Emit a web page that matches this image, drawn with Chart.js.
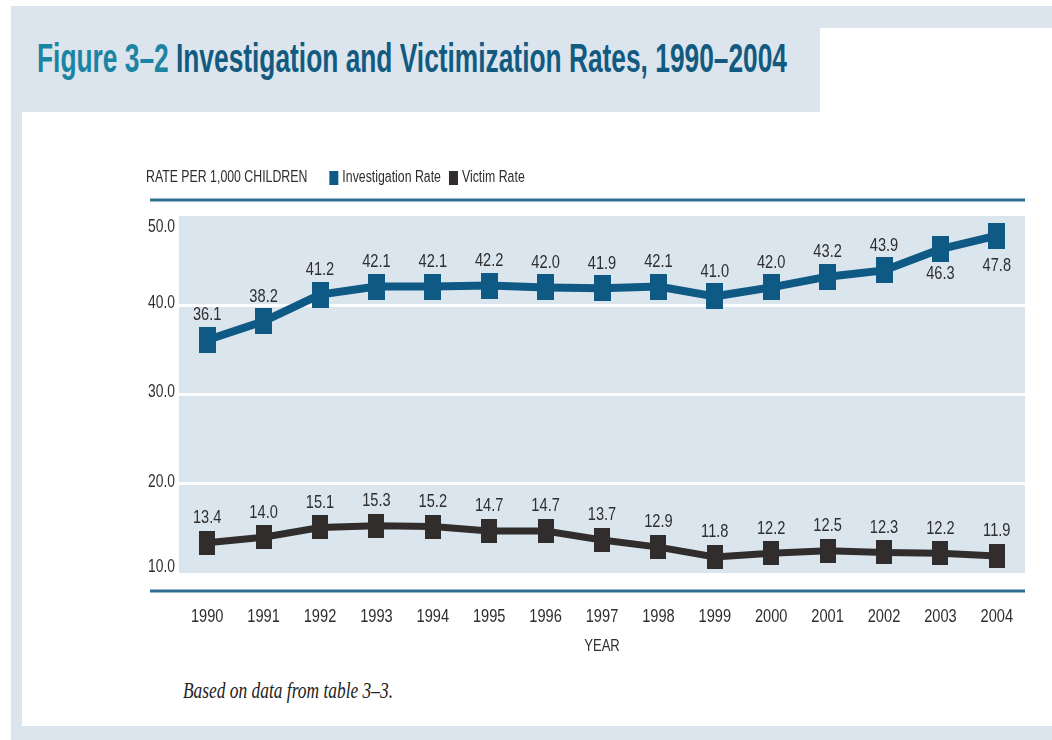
<!DOCTYPE html>
<html>
<head>
<meta charset="utf-8">
<script src="https://cdn.jsdelivr.net/npm/chart.js@4.4.1/dist/chart.umd.min.js"></script>
<style>
  html, body { margin: 0; padding: 0; background: #ffffff; }
  #page { position: relative; width: 1052px; height: 740px; overflow: hidden; background: #ffffff; }
  .abs { position: absolute; }
  #bg { left: 11px; top: 6px; right: 0; bottom: 0; background: #dce5ee; }
  #panel { left: 22px; top: 28px; right: 0; height: 698px; background: #ffffff; }
  #titlebox { left: 11px; top: 6px; width: 809px; height: 106px; background: #dce5ee; }
  #title { left: 37px; top: 38px; white-space: nowrap; font-family: "Liberation Sans Narrow", "Liberation Sans", sans-serif;
           font-weight: bold; font-size: 40px; line-height: 40px; color: #135a80; transform-origin: 0 0; }
  #title .fig { color: #1b84a3; }
  #note { left: 183px; top: 679px; white-space: nowrap; font-family: "Liberation Serif", serif; font-style: italic;
          font-size: 23px; line-height: 23px; color: #222; transform-origin: 0 0; }
  #wrap { left: 0; top: 0; width: 1052px; height: 740px; }
</style>
</head>
<body>
<div id="page">
  <div id="bg" class="abs"></div>
  <div id="panel" class="abs"></div>
  <div id="titlebox" class="abs"></div>
  <div id="title" class="abs"><span class="fig">Figure 3–2</span> Investigation and Victimization Rates, 1990–2004</div>
  <div id="note" class="abs">Based on data from table 3–3.</div>
  <div id="wrap" class="abs"><canvas id="c"></canvas></div>
</div>
<script>
// ---- data ----
const years = ["1990","1991","1992","1993","1994","1995","1996","1997","1998","1999","2000","2001","2002","2003","2004"];
const investigationRate = [36.1, 38.2, 41.2, 42.1, 42.1, 42.2, 42.0, 41.9, 42.1, 41.0, 42.0, 43.2, 43.9, 46.3, 47.8];
const victimRate = [13.4, 14.0, 15.1, 15.3, 15.2, 14.7, 14.7, 13.7, 12.9, 11.8, 12.2, 12.5, 12.3, 12.2, 11.9];
const seriesNames = ["Investigation Rate", "Victim Rate"];
const yTicks = [10, 20, 30, 40, 50];
const legendPrefix = "RATE PER 1,000 CHILDREN";
const xAxisTitle = "YEAR";

// fit title / note widths
function fitWidth(id, target) {
  const el = document.getElementById(id);
  const w = el.getBoundingClientRect().width;
  el.style.transform = 'scaleX(' + (target / w) + ')';
}
fitWidth('title', 750);
fitWidth('note', 210);

const INV = '#0f5a85';
const VIC = '#312d2d';
const RULE = '#2f6e92';
const TXT = '#2e2e2e';
const FONT = '"Liberation Sans", Arial, sans-serif';
const SX = 0.77; // condensed look

function rectMarker(w, h, color) {
  const cv = document.createElement('canvas');
  cv.width = w; cv.height = h;
  const g = cv.getContext('2d');
  g.fillStyle = color;
  g.fillRect(0, 0, w, h);
  return cv;
}

function cText(ctx, text, x, y, size, align, color) {
  ctx.save();
  ctx.font = size + 'px ' + FONT;
  ctx.fillStyle = color || TXT;
  ctx.textAlign = align;
  ctx.textBaseline = 'middle';
  ctx.translate(x, y);
  ctx.scale(SX, 1);
  ctx.fillText(text, 0, 0);
  const w = ctx.measureText(text).width * SX;
  ctx.restore();
  return w;
}

const decoPlugin = {
  id: 'deco',
  beforeDraw(chart) {
    const {ctx, chartArea: a} = chart;
    ctx.save();
    ctx.fillStyle = '#dbe5ee';
    ctx.fillRect(a.left, a.top, a.right - a.left, a.bottom - a.top);
    ctx.strokeStyle = RULE;
    ctx.lineWidth = 3;
    ctx.beginPath();
    ctx.moveTo(a.left - 29, a.top - 16); ctx.lineTo(a.right, a.top - 16);
    ctx.moveTo(a.left - 29, a.bottom + 18); ctx.lineTo(a.right, a.bottom + 18);
    ctx.stroke();
    ctx.restore();
    // legend
    const ly = a.top - 38;
    let x = a.left - 33;
    x += cText(ctx, legendPrefix, x, ly, 16, 'left') + 22;
    chart.data.datasets.forEach((ds) => {
      ctx.fillStyle = ds.borderColor;
      ctx.fillRect(x, ly - 7, 9, 14);
      x += 13;
      x += cText(ctx, ds.label, x, ly, 16, 'left') + 8;
    });
  },
  afterDraw(chart) {
    const {ctx, chartArea: a} = chart;
    const xs = chart.scales.x, ys = chart.scales.y;
    // x tick labels
    xs.ticks.forEach((t, i) => {
      cText(ctx, xs.getLabelForValue(t.value), xs.getPixelForTick(i), a.bottom + 44, 19, 'center');
    });
    // x axis title
    cText(ctx, xAxisTitle, (a.left + a.right) / 2, a.bottom + 73, 17, 'center');
    // y tick labels
    ys.ticks.forEach((t) => {
      let py = ys.getPixelForValue(t.value);
      py = Math.min(Math.max(py - 2, a.top + 11), a.bottom - 6);
      cText(ctx, Number(t.value).toFixed(1), a.left - 4, py, 18, 'right');
    });
  },
  afterDatasetsDraw(chart) {
    const {ctx} = chart;
    chart.data.datasets.forEach((ds, di) => {
      const meta = chart.getDatasetMeta(di);
      meta.data.forEach((pt, i) => {
        const below = di === 0 && i >= ds.data.length - 2;
        const dy = below ? (i === ds.data.length - 1 ? 30 : 25) : -25;
        cText(ctx, ds.data[i].toFixed(1), pt.x, pt.y + dy, 19, 'center');
      });
    });
  }
};

new Chart(document.getElementById('c'), {
  type: 'line',
  data: {
    labels: years,
    datasets: [
      { label: seriesNames[0], data: investigationRate, borderColor: INV, backgroundColor: INV,
        borderWidth: 8, pointStyle: rectMarker(17, 26, INV), pointRadius: 9, tension: 0 },
      { label: seriesNames[1], data: victimRate, borderColor: VIC, backgroundColor: VIC,
        borderWidth: 7, pointStyle: rectMarker(16, 24, VIC), pointRadius: 9, tension: 0 }
    ]
  },
  options: {
    responsive: true,
    maintainAspectRatio: false,
    animation: false,
    events: [],
    layout: { padding: { left: 139, right: 27, top: 216, bottom: 77 } },
    plugins: { legend: { display: false }, title: { display: false }, tooltip: { enabled: false } },
    scales: {
      x: {
        type: 'category', offset: true,
        grid: { display: false, drawTicks: false },
        border: { display: false },
        ticks: { display: false, autoSkip: false },
        title: { display: false, text: xAxisTitle },
        afterFit(s) { s.height = 90; }
      },
      y: {
        min: yTicks[0], max: yTicks[yTicks.length - 1],
        afterBuildTicks(s) { s.ticks = yTicks.map(v => ({ value: v })); },
        grid: { drawTicks: false, lineWidth: 3,
                color: (c) => (c.tick && (c.tick.value === yTicks[0] || c.tick.value === yTicks[yTicks.length - 1])) ? 'rgba(0,0,0,0)' : '#ffffff' },
        border: { display: false },
        ticks: { display: false },
        afterFit(s) { s.width = 40; }
      }
    }
  },
  plugins: [decoPlugin]
});
</script>
</body>
</html>
